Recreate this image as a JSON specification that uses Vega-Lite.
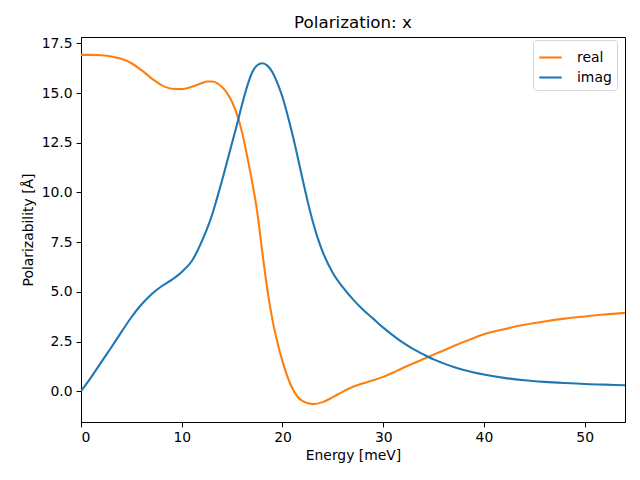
{
  "$schema": "https://vega.github.io/schema/vega-lite/v6.json",
  "width": 544,
  "height": 385,
  "autosize": {"type": "none"},
  "padding": {"left": 81, "top": 37, "right": 15, "bottom": 58},
  "title": {"text": "Polarization: x", "font": "DejaVu Sans", "fontSize": 16.7, "fontWeight": "normal", "color": "black", "anchor": "middle", "offset": 5},
  "config": {
    "view": {"stroke": "black", "strokeWidth": 1},
    "font": "DejaVu Sans",
    "axis": {"grid": false, "domainColor": "black", "tickColor": "black", "tickSize": 4.9, "labelPadding": 4, "labelFont": "DejaVu Sans", "labelFontSize": 13.9, "labelColor": "black", "titleFont": "DejaVu Sans", "titleFontSize": 13.9, "titleFontWeight": "normal", "titleColor": "black"}
  },
  "data": {"values": [
    {"E":0,"v":16.92,"s":"real"},{"E":1,"v":16.92,"s":"real"},{"E":2,"v":16.9,"s":"real"},{"E":3,"v":16.84,"s":"real"},{"E":4,"v":16.72,"s":"real"},{"E":5,"v":16.5,"s":"real"},{"E":6,"v":16.15,"s":"real"},{"E":7,"v":15.74,"s":"real"},{"E":8,"v":15.4,"s":"real"},{"E":9,"v":15.22,"s":"real"},{"E":10,"v":15.2,"s":"real"},{"E":11,"v":15.32,"s":"real"},{"E":12,"v":15.5,"s":"real"},{"E":12.5,"v":15.58,"s":"real"},{"E":13,"v":15.58,"s":"real"},{"E":13.5,"v":15.5,"s":"real"},{"E":14,"v":15.3,"s":"real"},{"E":14.5,"v":15.0,"s":"real"},{"E":15,"v":14.55,"s":"real"},{"E":15.5,"v":13.9,"s":"real"},{"E":16,"v":13.0,"s":"real"},{"E":16.5,"v":11.8,"s":"real"},{"E":17,"v":10.5,"s":"real"},{"E":17.5,"v":9.0,"s":"real"},{"E":18,"v":7.0,"s":"real"},{"E":18.5,"v":5.1,"s":"real"},{"E":19,"v":3.6,"s":"real"},{"E":19.5,"v":2.45,"s":"real"},{"E":20,"v":1.5,"s":"real"},{"E":20.5,"v":0.72,"s":"real"},{"E":21,"v":0.12,"s":"real"},{"E":21.5,"v":-0.28,"s":"real"},{"E":22,"v":-0.5,"s":"real"},{"E":23,"v":-0.65,"s":"real"},{"E":24,"v":-0.55,"s":"real"},{"E":25,"v":-0.3,"s":"real"},{"E":26,"v":-0.02,"s":"real"},{"E":27,"v":0.22,"s":"real"},{"E":28,"v":0.4,"s":"real"},{"E":29,"v":0.55,"s":"real"},{"E":30,"v":0.72,"s":"real"},{"E":31,"v":0.94,"s":"real"},{"E":32,"v":1.18,"s":"real"},{"E":33,"v":1.4,"s":"real"},{"E":34,"v":1.62,"s":"real"},{"E":35,"v":1.84,"s":"real"},{"E":36,"v":2.05,"s":"real"},{"E":37,"v":2.27,"s":"real"},{"E":38,"v":2.48,"s":"real"},{"E":39,"v":2.68,"s":"real"},{"E":40,"v":2.86,"s":"real"},{"E":42,"v":3.12,"s":"real"},{"E":44,"v":3.34,"s":"real"},{"E":46,"v":3.51,"s":"real"},{"E":48,"v":3.65,"s":"real"},{"E":50,"v":3.76,"s":"real"},{"E":52,"v":3.86,"s":"real"},{"E":54,"v":3.94,"s":"real"},
    {"E":0,"v":0,"s":"imag"},{"E":1,"v":0.7,"s":"imag"},{"E":2,"v":1.45,"s":"imag"},{"E":3,"v":2.2,"s":"imag"},{"E":4,"v":2.97,"s":"imag"},{"E":5,"v":3.72,"s":"imag"},{"E":6,"v":4.36,"s":"imag"},{"E":7,"v":4.88,"s":"imag"},{"E":8,"v":5.28,"s":"imag"},{"E":9,"v":5.6,"s":"imag"},{"E":10,"v":6.0,"s":"imag"},{"E":11,"v":6.55,"s":"imag"},{"E":11.5,"v":7.0,"s":"imag"},{"E":12,"v":7.55,"s":"imag"},{"E":12.5,"v":8.15,"s":"imag"},{"E":13,"v":8.85,"s":"imag"},{"E":13.5,"v":9.7,"s":"imag"},{"E":14,"v":10.6,"s":"imag"},{"E":14.5,"v":11.55,"s":"imag"},{"E":15,"v":12.5,"s":"imag"},{"E":15.5,"v":13.45,"s":"imag"},{"E":16,"v":14.45,"s":"imag"},{"E":16.5,"v":15.35,"s":"imag"},{"E":17,"v":16.05,"s":"imag"},{"E":17.5,"v":16.4,"s":"imag"},{"E":18,"v":16.5,"s":"imag"},{"E":18.5,"v":16.38,"s":"imag"},{"E":19,"v":16.05,"s":"imag"},{"E":19.5,"v":15.5,"s":"imag"},{"E":20,"v":14.8,"s":"imag"},{"E":20.5,"v":13.9,"s":"imag"},{"E":21,"v":12.9,"s":"imag"},{"E":21.5,"v":11.8,"s":"imag"},{"E":22,"v":10.65,"s":"imag"},{"E":22.5,"v":9.55,"s":"imag"},{"E":23,"v":8.55,"s":"imag"},{"E":23.5,"v":7.7,"s":"imag"},{"E":24,"v":7.0,"s":"imag"},{"E":25,"v":5.95,"s":"imag"},{"E":26,"v":5.22,"s":"imag"},{"E":27,"v":4.62,"s":"imag"},{"E":28,"v":4.1,"s":"imag"},{"E":29,"v":3.65,"s":"imag"},{"E":30,"v":3.2,"s":"imag"},{"E":31,"v":2.8,"s":"imag"},{"E":32,"v":2.43,"s":"imag"},{"E":33,"v":2.12,"s":"imag"},{"E":34,"v":1.85,"s":"imag"},{"E":35,"v":1.6,"s":"imag"},{"E":36,"v":1.4,"s":"imag"},{"E":37,"v":1.22,"s":"imag"},{"E":38,"v":1.07,"s":"imag"},{"E":40,"v":0.84,"s":"imag"},{"E":42,"v":0.67,"s":"imag"},{"E":44,"v":0.55,"s":"imag"},{"E":46,"v":0.47,"s":"imag"},{"E":48,"v":0.41,"s":"imag"},{"E":50,"v":0.36,"s":"imag"},{"E":52,"v":0.33,"s":"imag"},{"E":54,"v":0.3,"s":"imag"}
  ]},
  "mark": {"type": "line", "interpolate": "monotone", "strokeWidth": 2.1, "clip": true},
  "encoding": {
    "x": {"field": "E", "type": "quantitative", "scale": {"domain": [0, 54], "nice": false, "zero": false},
      "axis": {"title": "Energy [meV]", "values": [0,10,20,30,40,50], "titlePadding": 4}},
    "y": {"field": "v", "type": "quantitative", "scale": {"domain": [-1.55, 17.82], "nice": false, "zero": false},
      "axis": {"title": "Polarizability [Å]", "values": [0,2.5,5,7.5,10,12.5,15,17.5], "format": ".1f", "titlePadding": 6}},
    "color": {"field": "s", "type": "nominal", "sort": ["real", "imag"],
      "scale": {"domain": ["real", "imag"], "range": ["#ff7f0e", "#1f77b4"]},
      "legend": {"title": null, "orient": "none", "legendX": 452, "legendY": 3, "symbolType": "stroke", "symbolSize": 500, "symbolStrokeWidth": 2.1, "labelFontSize": 13.9, "labelFont": "DejaVu Sans", "labelColor": "black", "strokeColor": "#d5d5d5", "cornerRadius": 3, "padding": 5, "fillColor": "white", "rowPadding": 0, "labelOffset": 14}},
    "order": {"field": "E", "type": "quantitative"}
  }
}
